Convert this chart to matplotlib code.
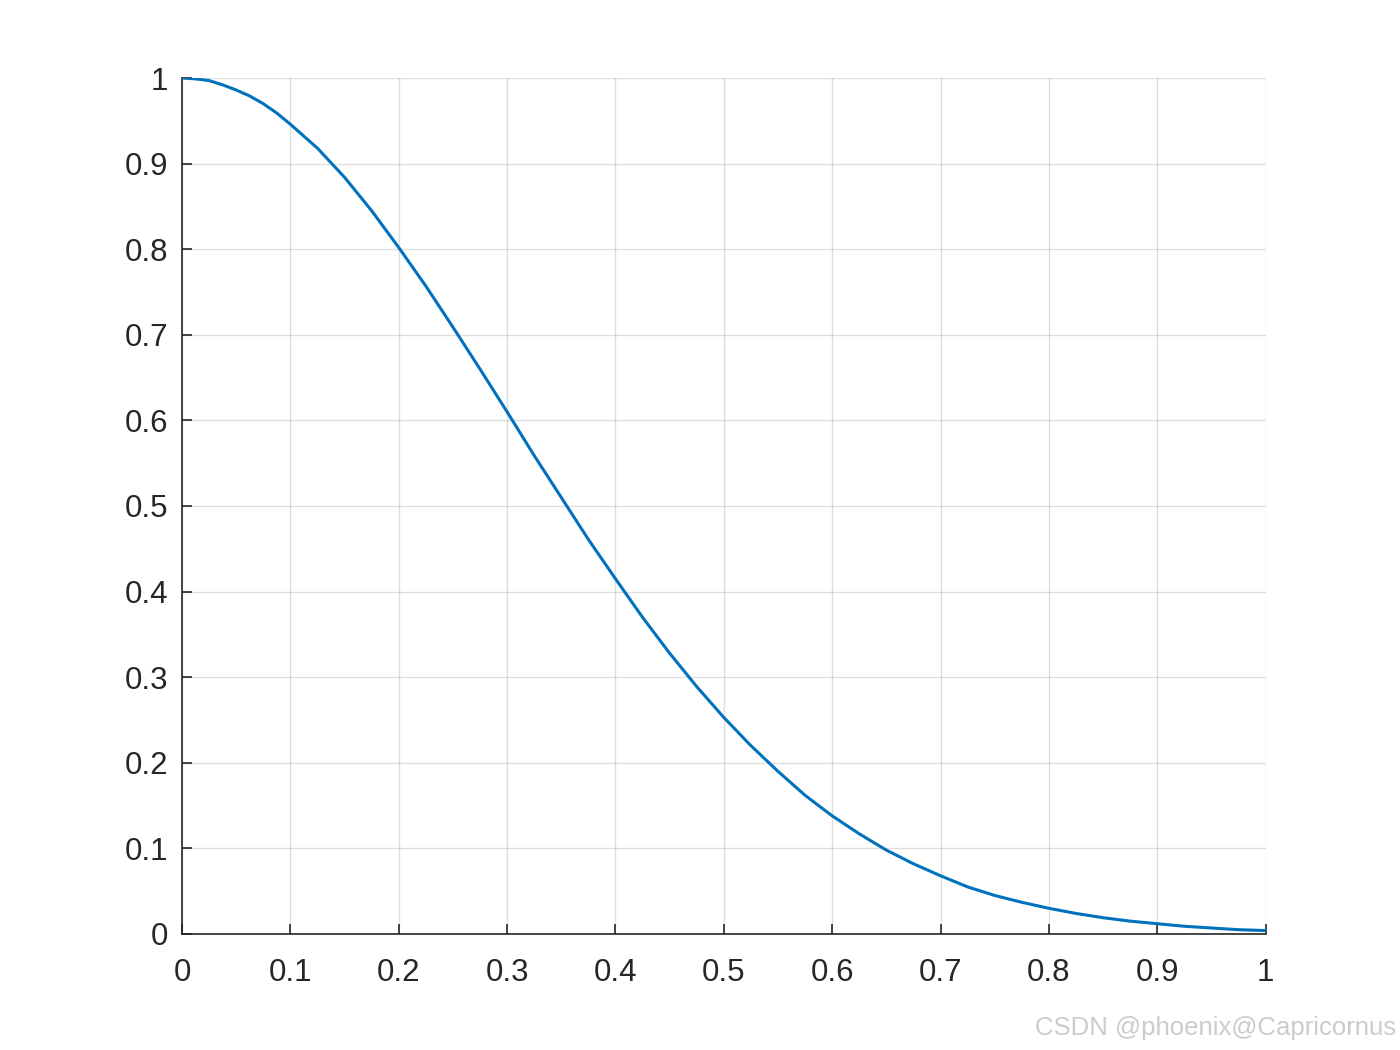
import numpy as np
import matplotlib.pyplot as plt

plt.rcParams['font.family'] = ['Liberation Sans', 'DejaVu Sans']

# values
x = [0.0, 0.0125, 0.025, 0.0375, 0.05, 0.0625, 0.075, 0.0875, 0.1, 0.125,
     0.15, 0.175, 0.2, 0.225, 0.25, 0.275, 0.3, 0.325, 0.35, 0.375,
     0.4, 0.425, 0.45, 0.475, 0.5, 0.525, 0.55, 0.575, 0.6, 0.625,
     0.65, 0.675, 0.7, 0.725, 0.75, 0.775, 0.8, 0.825, 0.85, 0.875,
     0.9, 0.925, 0.95, 0.975, 1.0]
y = [1.000, 0.999, 0.997, 0.992, 0.986, 0.979, 0.970, 0.959, 0.946, 0.918,
     0.884, 0.845, 0.802, 0.757, 0.709, 0.660, 0.610, 0.559, 0.510, 0.461,
     0.415, 0.370, 0.328, 0.289, 0.253, 0.220, 0.190, 0.162, 0.138, 0.117,
     0.098, 0.082, 0.068, 0.055, 0.045, 0.037, 0.030, 0.024, 0.019, 0.015,
     0.012, 0.009, 0.007, 0.005, 0.004]

xticks = [0, 0.1, 0.2, 0.3, 0.4, 0.5, 0.6, 0.7, 0.8, 0.9, 1]
yticks = [0, 0.1, 0.2, 0.3, 0.4, 0.5, 0.6, 0.7, 0.8, 0.9, 1]
tick_labels = ['0', '0.1', '0.2', '0.3', '0.4', '0.5', '0.6', '0.7', '0.8', '0.9', '1']

fig = plt.figure(figsize=(14, 10.5), dpi=100)
ax = fig.add_axes([0.13, 0.1105, 0.774, 0.8152])

ax.plot(x, y, color='#0072BD', lw=2.2, zorder=3, solid_joinstyle='round')

ax.set_xlim(0, 1)
ax.set_ylim(0, 1)
ax.set_xticks(xticks)
ax.set_yticks(yticks)
ax.set_xticklabels(tick_labels)
ax.set_yticklabels(tick_labels)

ax.grid(True, color='#262626', alpha=0.15, lw=1.0)
ax.set_axisbelow(True)

# MATLAB box off look: only left/bottom axis lines
for s in ['top', 'right']:
    ax.spines[s].set_visible(False)
for s in ['left', 'bottom']:
    ax.spines[s].set_color('#262626')
    ax.spines[s].set_linewidth(1.2)

ax.tick_params(direction='in', length=7, width=1.2, colors='#262626',
               labelsize=22.5)
ax.tick_params(axis='x', pad=17)
ax.tick_params(axis='y', pad=10)

fig.text(0.997, 0.01, 'CSDN @phoenix@Capricornus', ha='right', va='bottom',
         fontsize=18.5, color='#cccccc')

plt.savefig('out.png', dpi=100)
